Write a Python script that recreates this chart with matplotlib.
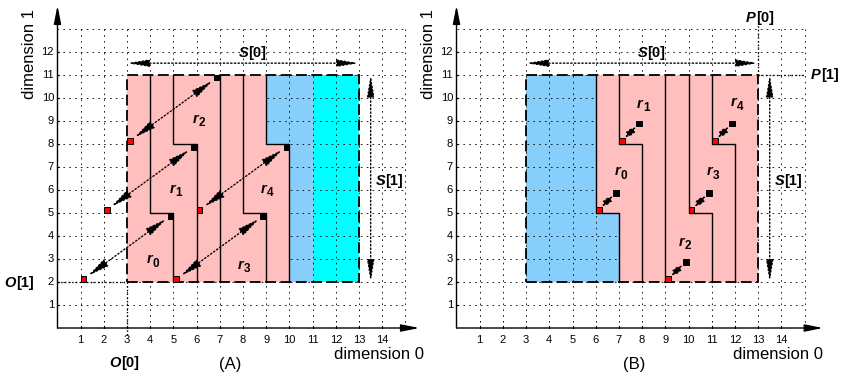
import matplotlib
matplotlib.use("Agg")
import matplotlib.pyplot as plt
from matplotlib.patches import Polygon, Rectangle

plt.rcParams.update({"font.family": ["Liberation Sans", "DejaVu Sans"]})

PINK, BLUE, CYAN = "#FFBFBF", "#87CEFA", "#00FFFF"

# index space shared by both panels
GRID_X = list(range(1, 16))
GRID_Y = list(range(1, 14))
XTICKS = list(range(1, 15))
YTICKS = list(range(1, 13))
DOMAIN = [(3, 2), (13, 2), (13, 11), (3, 11)]
S0_ROW = 11.5
S1_COL = 13.5

# (A) regions, cut lines, start (red) / end (black) cells, labels
A_PINK = [(3, 2), (10, 2), (10, 8), (9, 8), (9, 11), (3, 11)]
A_BLUE = [(9, 11), (9, 8), (10, 8), (10, 2), (11, 2), (11, 11)]
A_CYAN = [(11, 2), (13, 2), (13, 11), (11, 11)]
A_CUTS = [[(4, 11), (4, 5), (5, 5), (5, 2)],
          [(5, 11), (5, 8), (6, 8), (6, 2)],
          [(7, 11), (7, 2)],
          [(8, 11), (8, 5), (9, 5), (9, 2)],
          [(9, 11), (9, 8), (10, 8), (10, 2)]]
A_STARTS = [(1, 2), (2, 5), (3, 8), (5, 2), (6, 5)]
A_ENDS = [(5, 5), (6, 8), (7, 11), (9, 5), (10, 8)]
A_LABELS = [(4.05, 3.0), (5.05, 6.05), (6.05, 9.1), (8.0, 2.75), (9.0, 6.05)]

# (B)
B_BLUE = [(3, 2), (7, 2), (7, 5), (6, 5), (6, 11), (3, 11)]
B_PINK = [(6, 11), (6, 5), (7, 5), (7, 2), (13, 2), (13, 11)]
B_CUTS = [[(6, 11), (6, 5), (7, 5), (7, 2)],
          [(7, 11), (7, 8), (8, 8), (8, 2)],
          [(9, 11), (9, 2)],
          [(10, 11), (10, 5), (11, 5), (11, 2)],
          [(11, 11), (11, 8), (12, 8), (12, 2)]]
B_STARTS = [(6, 5), (7, 8), (9, 2), (10, 5), (11, 8)]
B_ENDS = [(7, 6), (8, 9), (10, 3), (11, 6), (12, 9)]
B_LABELS = [(7.05, 6.8), (8.0, 9.75), (9.8, 3.75), (11.0, 6.8), (12.05, 9.8)]

CELL = 0.25  # marker square size (index units)


def arrow(ax, p, q, style="<|-|>", ls=":", lw=1.0, scale=10, hl=1.1, hw=0.22,
          shrink=0, z=6):
    ax.annotate("", xy=q, xytext=p, zorder=z,
                arrowprops=dict(arrowstyle=f"{style},head_length={hl},head_width={hw}",
                                mutation_scale=scale, lw=lw, ls=ls, color="k",
                                shrinkA=shrink, shrinkB=shrink))


def vec_label(ax, x, y, name, idx, fs=10.5):
    """Bold-italic symbol followed by a bold [idx], centred on (x, y)."""
    split = -0.2775 * fs
    base = -0.36 * fs
    kw = dict(textcoords="offset points", va="baseline", fontsize=fs,
              fontweight="bold", zorder=9)
    ax.annotate(name, (x, y), xytext=(split, base), ha="right", style="italic", **kw)
    ax.annotate(f"[{idx}]", (x, y), xytext=(split, base), ha="left", **kw)


def region_label(ax, x, y, idx, fs=10.5, fs_sub=8.5):
    base = -0.28 * fs
    ax.annotate("r", (x, y), xytext=(0.5, base), textcoords="offset points",
                ha="right", va="baseline", fontsize=fs, fontweight="bold",
                style="italic", zorder=9)
    ax.annotate(str(idx), (x, y), xytext=(0.5, base - 0.25 * fs),
                textcoords="offset points", ha="left", va="baseline",
                fontsize=fs_sub, fontweight="bold", zorder=9)


def frame(ax, xtip, label):
    ax.set_axis_off()
    for x in GRID_X:
        ax.plot([x, x], [0, GRID_Y[-1]], color="k", lw=0.6, ls=(0, (2, 5)), zorder=2)
    for y in GRID_Y:
        ax.plot([0, GRID_X[-1]], [y, y], color="k", lw=0.6, ls=(0, (2, 5)), zorder=2)
    arrow(ax, (0, 0), (xtip, 0), style="-|>", ls="-", lw=1.0, hl=1.1, hw=0.22, z=7)
    arrow(ax, (0, 0), (0, 14.0), style="-|>", ls="-", lw=1.0, hl=1.1, hw=0.22, z=7)
    for x in XTICKS:
        ax.plot([x, x], [0, 0.08], color="k", lw=0.8, zorder=7)
        ax.text(x, -0.52, str(x), ha="center", va="center", fontsize=8)
    for y in YTICKS:
        ax.plot([0, 0.08], [y, y], color="k", lw=0.8, zorder=7)
        ax.text(-0.15, y, str(y), ha="right", va="center", fontsize=8)
    ax.text(11.9, -1.17, "dimension 0", ha="left", va="center", fontsize=12)
    ax.text(-1.22, 11.9, "dimension 1", ha="center", va="center", fontsize=12,
            rotation=90)
    ax.text(label[1], -1.6, label[0], ha="center", va="center", fontsize=12)

    # domain outline and its extents
    ax.add_patch(Polygon(DOMAIN, closed=True, fill=False, ec="k", lw=1.3,
                         ls=(0, (6, 2.5)), zorder=5))
    arrow(ax, (3, S0_ROW), (13, S0_ROW), hl=1.3, hw=0.22)
    arrow(ax, (S1_COL, 11), (S1_COL, 2), hl=1.3, hw=0.22)
    vec_label(ax, 8.4, 12.0, "S", 0)
    vec_label(ax, 14.3, 6.45, "S", 1)


def regions(ax, cuts, starts, ends, labels, short):
    for c in cuts:
        ax.plot([p[0] for p in c], [p[1] for p in c], color="k", lw=1.0, zorder=4)
    for s, e in zip(starts, ends):
        ax.add_patch(Rectangle(s, CELL, CELL, fc="#FF0000", ec="k", lw=0.7, zorder=8))
        ax.add_patch(Rectangle((e[0] - CELL, e[1] - CELL), CELL, CELL, fc="k",
                               ec="k", lw=0.7, zorder=8))
        p = (s[0] + CELL / 2, s[1] + CELL / 2)
        q = (e[0] - CELL / 2, e[1] - CELL / 2)
        if short:
            arrow(ax, p, q, scale=6, hl=1.0, hw=0.3, shrink=3)
        else:
            arrow(ax, p, q, hl=1.3, hw=0.25, shrink=4)
    for i, (x, y) in enumerate(labels):
        region_label(ax, x, y, i)


fig = plt.figure(figsize=(8.41, 3.78), dpi=100)
axA = fig.add_axes([0, 0, 0.5, 1])
axB = fig.add_axes([0.5, 0, 0.5, 1])
axA.set_xlim(-2.478, 15.647)
axB.set_xlim(-1.552, 16.573)
for ax in (axA, axB):
    ax.set_ylim(-2.171, 14.242)

# (A)
axA.add_patch(Polygon(A_BLUE, closed=True, fc=BLUE, ec="none", zorder=1))
axA.add_patch(Polygon(A_CYAN, closed=True, fc=CYAN, ec="none", zorder=1))
axA.add_patch(Polygon(A_PINK, closed=True, fc=PINK, ec="none", zorder=3))
frame(axA, 15.6, ("(A)", 7.43))
regions(axA, A_CUTS, A_STARTS, A_ENDS, A_LABELS, short=False)
axA.plot([0, 3], [2, 2], color="k", lw=1.0, ls=":", zorder=4)
axA.plot([3, 3], [2, -0.3], color="k", lw=1.0, ls=":", zorder=4)
vec_label(axA, -1.62, 2.0, "O", 1)
vec_label(axA, 2.9, -1.48, "O", 0)

# (B)
axB.add_patch(Polygon(B_BLUE, closed=True, fc=BLUE, ec="none", zorder=1))
axB.add_patch(Polygon(B_PINK, closed=True, fc=PINK, ec="none", zorder=3))
frame(axB, 15.8, ("(B)", 7.65))
regions(axB, B_CUTS, B_STARTS, B_ENDS, B_LABELS, short=True)
axB.plot([13, 13], [11, 13.2], color="k", lw=1.0, ls=":", zorder=4)
axB.plot([13, 15], [11, 11], color="k", lw=1.0, ls=":", zorder=4)
vec_label(axB, 13.08, 13.5, "P", 0)
vec_label(axB, 15.88, 11.03, "P", 1)

fig.savefig("out.png", dpi=100)
